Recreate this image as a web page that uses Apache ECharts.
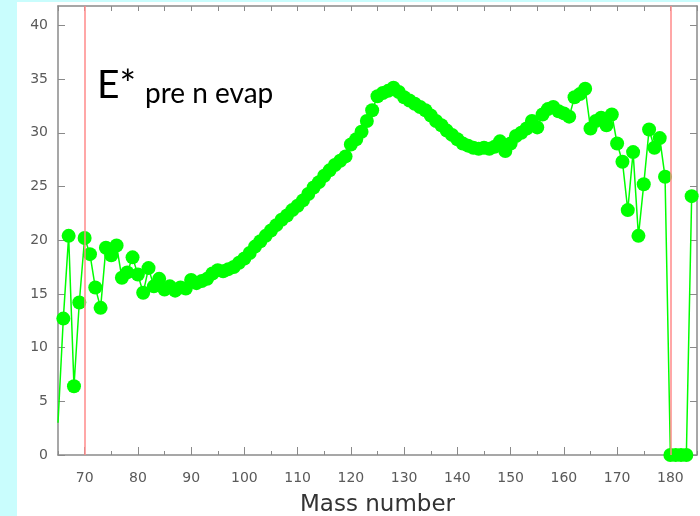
<!DOCTYPE html>
<html>
<head>
<meta charset="utf-8">
<script src="https://cdn.jsdelivr.net/npm/echarts@6/dist/echarts.min.js"></script>
<style>
html,body{margin:0;padding:0;background:#c9fdfd;}
#main{width:700px;height:516px;}
</style>
</head>
<body>
<div id="main"></div>
<script>
// Mass numbers
const massNumbers = [65,66,67,68,69,70,71,72,73,74,75,76,77,78,79,80,81,82,83,84,85,86,87,88,89,90,91,92,93,94,95,96,97,98,99,100,101,102,103,104,105,106,107,108,109,110,111,112,113,114,115,116,117,118,119,120,121,122,123,124,125,126,127,128,129,130,131,132,133,134,135,136,137,138,139,140,141,142,143,144,145,146,147,148,149,150,151,152,153,154,155,156,157,158,159,160,161,162,163,164,165,166,167,168,169,170,171,172,173,174,175,176,177,178,179,180,181,182,183,184];
// E* pre-neutron-evaporation values
const energies = [3,12.7,20.4,6.4,14.2,20.2,18.7,15.6,13.7,19.3,18.6,19.5,16.5,17.0,18.4,16.8,15.1,17.4,15.7,16.4,15.4,15.7,15.3,15.6,15.5,16.3,16.0,16.2,16.4,16.9,17.2,17.1,17.3,17.5,17.9,18.3,18.8,19.4,19.9,20.4,20.9,21.4,21.9,22.3,22.8,23.2,23.7,24.3,24.9,25.4,26.0,26.5,27.0,27.4,27.8,28.9,29.4,30.1,31.1,32.1,33.4,33.7,33.9,34.2,33.8,33.3,33.0,32.7,32.4,32.1,31.6,31.1,30.7,30.2,29.8,29.4,29.0,28.8,28.6,28.5,28.6,28.5,28.7,29.2,28.3,29.0,29.7,30.0,30.4,31.1,30.5,31.7,32.2,32.4,32.0,31.8,31.5,33.3,33.6,34.1,30.4,31.1,31.4,30.7,31.7,29.0,27.3,22.8,28.2,20.4,25.2,30.3,28.6,29.5,25.9,0,0,0,0,24.1];
const xLabelValues = [70,80,90,100,110,120,130,140,150,160,170,180];
const yLabelValues = [0,5,10,15,20,25,30,35,40];
const markerLines = [70,180];
const titleMain = 'E*';
const titleSub = 'pre n evap';
const xAxisName = 'Mass number';

const seriesData = massNumbers.map((m, i) => {
  const item = { value: [m, energies[i]] };
  if (i === 0) item.symbolSize = 0;
  return item;
});

const axisColor = '#8a8a8a';
const labelStyle = { color: '#5a5a5a', fontFamily: 'DejaVu Sans', fontSize: 14 };

const chart = echarts.init(document.getElementById('main'), null, { renderer: 'canvas' });
chart.setOption({
  backgroundColor: '#c9fdfd',
  animation: false,
  graphic: [
    { type: 'rect', z: -10, silent: true, shape: { x: 17, y: 2, width: 683, height: 514 }, style: { fill: '#ffffff' } },
    { type: 'text', z: 10, style: { text: titleMain, x: 97, y: 85, fontFamily: 'Lato', fontSize: 39, fill: '#000', verticalAlign: 'middle' } },
    { type: 'text', z: 10, style: { text: titleSub, x: 145, y: 94, fontFamily: 'Lato', fontSize: 28, fill: '#000', verticalAlign: 'middle' } }
  ],
  grid: { left: 58, right: 3, top: 6, bottom: 61, containLabel: false, outerBoundsMode: 'none' },
  xAxis: [
    {
      type: 'value', position: 'bottom', min: 65, max: 185, interval: 5,
      name: xAxisName, nameLocation: 'middle', nameGap: 39,
      nameTextStyle: { color: '#333', fontFamily: 'DejaVu Sans', fontSize: 23 },
      axisLine: { show: true, onZero: false, lineStyle: { color: axisColor, width: 1.5 } },
      axisTick: { show: true, inside: true, length: 4, lineStyle: { color: axisColor, width: 1 } },
      axisLabel: { show: true, customValues: xLabelValues, margin: 16, ...labelStyle },
      splitLine: { show: false }
    },
    {
      type: 'value', position: 'bottom', min: 65, max: 185,
      axisLine: { show: false },
      axisTick: { show: true, inside: true, length: 8, customValues: xLabelValues, lineStyle: { color: axisColor, width: 1 } },
      axisLabel: { show: false },
      splitLine: { show: false }
    },
    {
      type: 'value', position: 'top', min: 65, max: 185, interval: 5,
      axisLine: { show: true, onZero: false, lineStyle: { color: axisColor, width: 1.5 } },
      axisTick: { show: true, inside: true, length: 5, lineStyle: { color: axisColor, width: 1 } },
      axisLabel: { show: false },
      splitLine: { show: false }
    }
  ],
  yAxis: [
    {
      type: 'value', position: 'left', min: 0, max: 41.8,
      axisLine: { show: true, onZero: false, lineStyle: { color: axisColor, width: 1.5 } },
      axisTick: { show: true, inside: true, length: 7, customValues: yLabelValues, lineStyle: { color: axisColor, width: 1 } },
      axisLabel: { show: true, customValues: yLabelValues, margin: 10, ...labelStyle },
      splitLine: { show: false }
    },
    {
      type: 'value', position: 'right', min: 0, max: 41.8,
      axisLine: { show: true, onZero: false, lineStyle: { color: axisColor, width: 1.5 } },
      axisTick: { show: true, inside: true, length: 7, customValues: yLabelValues, lineStyle: { color: axisColor, width: 1 } },
      axisLabel: { show: false },
      splitLine: { show: false }
    }
  ],
  series: [
    {
      type: 'line', xAxisIndex: 0, yAxisIndex: 0,
      data: seriesData,
      symbol: 'circle', symbolSize: 14, showAllSymbol: true,
      lineStyle: { color: '#00ff00', width: 1.5 },
      itemStyle: { color: '#00ff00' },
      clip: true,
      z: 3,
      markLine: {
        silent: true, symbol: ['none', 'none'], label: { show: false },
        lineStyle: { color: '#ff8a8a', width: 1.5, type: 'solid' },
        data: markerLines.map(v => ({ xAxis: v })),
        z: 5
      }
    }
  ]
});
</script>
</body>
</html>
